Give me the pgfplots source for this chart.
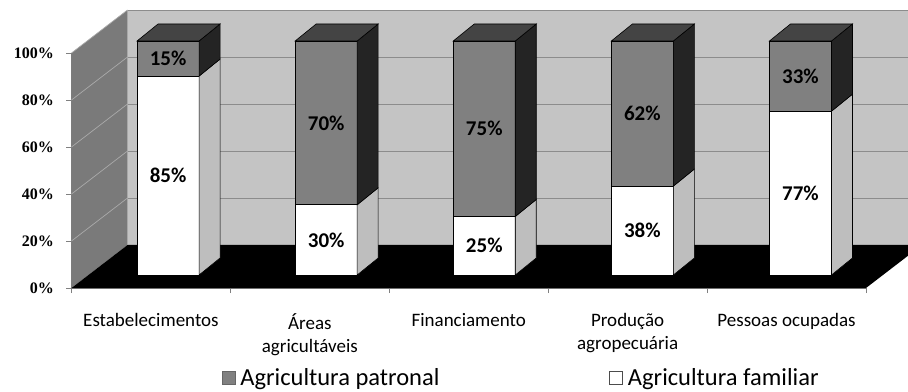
\documentclass[border=0pt]{standalone}
\usepackage{pgfplots}
\pgfplotsset{compat=1.18}
\usepackage{pgfplotstable}
\usepackage{fontspec}
\setmainfont{Carlito}
\newfontfamily\tickfont{Liberation Serif}

\definecolor{wallback}{RGB}{196,196,196}
\definecolor{wallleft}{RGB}{122,122,122}
\definecolor{patfront}{RGB}{128,128,128}
\definecolor{patside}{RGB}{36,36,36}
\definecolor{pattop}{RGB}{68,68,68}
\definecolor{famside}{RGB}{190,190,190}
\definecolor{gridc}{RGB}{140,140,140}
\definecolor{gridl}{RGB}{170,170,170}

\pgfplotstableread{
x   fam pat
0.5 85  15
1.5 30  70
2.5 25  75
3.5 38  62
4.5 77  33
}\datatable

% 3D side and top faces of a stacked bar (front width 62bp, total height 234bp)
\pgfdeclareplotmark{box3d}{%
  \pgfsetlinewidth{0.6bp}%
  \pgfsetstrokecolor{black}%
  \pgfsetfillcolor{famside}%
  \pgfpathmoveto{\pgfpoint{31bp}{0bp}}%
  \pgfpathlineto{\pgfpoint{52bp}{17bp}}%
  \pgfpathlineto{\pgfpoint{52bp}{\hf bp+17bp}}%
  \pgfpathlineto{\pgfpoint{31bp}{\hf bp}}%
  \pgfpathclose
  \pgfusepath{fill,stroke}%
  \pgfsetfillcolor{patside}%
  \pgfpathmoveto{\pgfpoint{31bp}{\hf bp}}%
  \pgfpathlineto{\pgfpoint{52bp}{\hf bp+17bp}}%
  \pgfpathlineto{\pgfpoint{52bp}{251bp}}%
  \pgfpathlineto{\pgfpoint{31bp}{234bp}}%
  \pgfpathclose
  \pgfusepath{fill,stroke}%
  \pgfsetfillcolor{pattop}%
  \pgfpathmoveto{\pgfpoint{-31bp}{234bp}}%
  \pgfpathlineto{\pgfpoint{31bp}{234bp}}%
  \pgfpathlineto{\pgfpoint{52bp}{251bp}}%
  \pgfpathlineto{\pgfpoint{-10bp}{251bp}}%
  \pgfpathclose
  \pgfusepath{fill,stroke}%
}

\pgfplotsset{
  valuelabel/.style={draw=none, point meta=explicit,
    /pgf/number format/assume math mode=true,
    nodes near coords={\pgfmathprintnumber{\pgfplotspointmeta}\%},
    every node near coord/.style={anchor=center, text=black, font=\fontsize{21bp}{23bp}\selectfont\bfseries}},
}

\begin{document}
\begin{tikzpicture}
% ---------- front plane: walls, floor, axes, ticks, legend ----------
\begin{axis}[
  at={(0,0)}, anchor=south west,
  x=158.9bp, y=2.35bp,
  xmin=0, xmax=5, ymin=0, ymax=100,
  clip=false,
  axis x line*=bottom, axis y line*=left,
  axis line style={draw=gray, line width=0.6bp, -},
  xtick={0.5,1.5,2.5,3.5,4.5},
  xticklabels={Estabelecimentos,{Áreas\\agricultáveis},Financiamento,{Produção\\agropecuária},Pessoas ocupadas},
  minor xtick={0,1,2,3,4,5},
  major x tick style={draw=none},
  minor tick length=5bp,
  major tick length=5bp,
  tick align=outside,
  tick style={draw=gray, line width=0.6bp},
  ytick={0,20,40,60,80,100},
  yticklabels={0\%,20\%,40\%,60\%,80\%,100\%},
  xticklabel style={font=\fontsize{19bp}{23bp}\selectfont, align=center, yshift=-17bp},
  yticklabel style={font=\tickfont\bfseries\fontsize{16bp}{18bp}\selectfont, xshift=-9bp},
  legend columns=2,
  legend style={at={(axis cs:2.83,-38.3)}, anchor=center, draw=none, fill=none,
    font=\fontsize{24.5bp}{26bp}\selectfont,
    /tikz/every odd column/.append style={column sep=3bp},
    /tikz/every even column/.append style={column sep=168bp}},
]
% back wall
\fill[wallback] (axis cs:0.3526,18.3) rectangle (axis cs:5.3526,118.3);
\draw[gridc, line width=0.7bp] (axis cs:0.3526,38.3) -- (axis cs:5.3526,38.3);
\draw[gridc, line width=0.7bp] (axis cs:0.3526,58.3) -- (axis cs:5.3526,58.3);
\draw[gridc, line width=0.7bp] (axis cs:0.3526,78.3) -- (axis cs:5.3526,78.3);
\draw[gridc, line width=0.7bp] (axis cs:0.3526,98.3) -- (axis cs:5.3526,98.3);
\draw[gridc, line width=0.7bp] (axis cs:0.3526,118.3) -- (axis cs:5.3526,118.3);
% left wall
\fill[wallleft] (axis cs:0,0) -- (axis cs:0,100) -- (axis cs:0.3526,118.3) -- (axis cs:0.3526,18.3) -- cycle;
\draw[gridl, line width=0.7bp] (axis cs:0,20) -- (axis cs:0.3526,38.3);
\draw[gridl, line width=0.7bp] (axis cs:0,40) -- (axis cs:0.3526,58.3);
\draw[gridl, line width=0.7bp] (axis cs:0,60) -- (axis cs:0.3526,78.3);
\draw[gridl, line width=0.7bp] (axis cs:0,80) -- (axis cs:0.3526,98.3);
\draw[gridl, line width=0.7bp] (axis cs:0,100) -- (axis cs:0.3526,118.3);
% floor
\fill[black] (axis cs:0,0) -- (axis cs:5,0) -- (axis cs:5.3526,18.3) -- (axis cs:0.3526,18.3) -- cycle;
% legend
\addlegendimage{legend image code/.code={\draw[fill=patfront, draw=black!60, line width=0.6bp] (0bp,-6.5bp) rectangle (13bp,6.5bp);}}
\addlegendentry{Agricultura patronal}
\addlegendimage{legend image code/.code={\draw[fill=white, draw=black!70, line width=0.6bp] (0bp,-6.5bp) rectangle (13bp,6.5bp);}}
\addlegendentry{Agricultura familiar}
\end{axis}

% ---------- bar plane: front faces of stacked bars ----------
\begin{axis}[
  at={(17.5bp,13bp)}, anchor=south west,
  x=158.1bp, y=2.34bp,
  xmin=0, xmax=5, ymin=0, ymax=100,
  hide axis, clip=false,
  ybar stacked, bar width=62bp,
]
\addplot[fill=white, draw=black, line width=0.6bp]
  table[x=x, y expr={100*\thisrow{fam}/(\thisrow{fam}+\thisrow{pat})}] {\datatable};
\addplot[fill=patfront, draw=black, line width=0.6bp]
  table[x=x, y expr={100*\thisrow{pat}/(\thisrow{fam}+\thisrow{pat})}] {\datatable};
\end{axis}

% ---------- bar plane: side/top faces and value labels ----------
\begin{axis}[
  at={(17.5bp,13bp)}, anchor=south west,
  x=158.1bp, y=2.34bp,
  xmin=0, xmax=5, ymin=0, ymax=100,
  hide axis, clip=false,
]
\addplot[scatter, only marks, mark=box3d,
  scatter/@pre marker code/.code={\pgfscope},
  scatter/@post marker code/.code={\endpgfscope},
  visualization depends on={234*\thisrow{fam}/(\thisrow{fam}+\thisrow{pat}) \as \hf}]
  table[x=x, y expr={0*\thisrow{fam}}] {\datatable};
\addplot[valuelabel]
  table[x=x, y expr={50*\thisrow{fam}/(\thisrow{fam}+\thisrow{pat})}, meta=fam] {\datatable};
\addplot[valuelabel]
  table[x=x, y expr={100*\thisrow{fam}/(\thisrow{fam}+\thisrow{pat})+50*\thisrow{pat}/(\thisrow{fam}+\thisrow{pat})}, meta=pat] {\datatable};
\end{axis}

\pgfresetboundingbox
\path[use as bounding box] (-71.5bp,-104bp) rectangle (836.5bp,288bp);
\end{tikzpicture}
\end{document}
